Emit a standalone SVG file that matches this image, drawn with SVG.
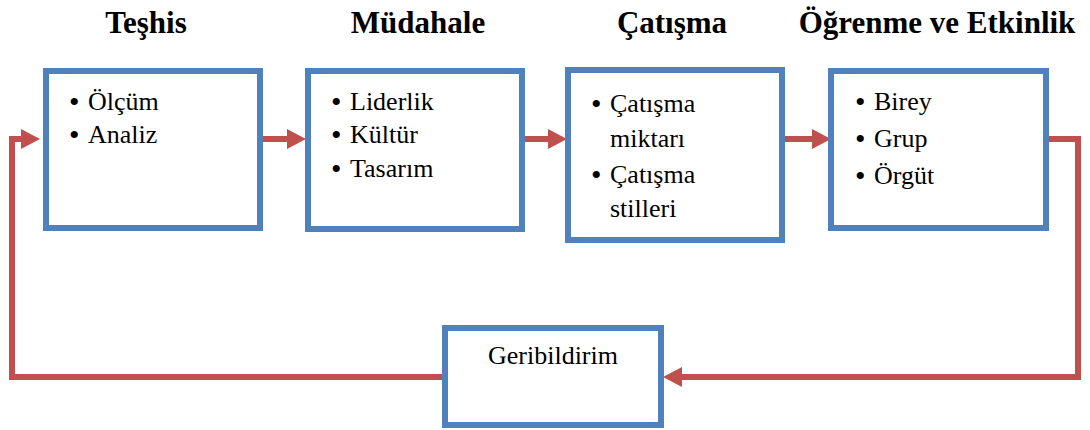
<svg xmlns="http://www.w3.org/2000/svg" width="1090" height="430" viewBox="0 0 1090 430">
<style>
.box{fill:#fff;stroke:#4F81BD;stroke-width:6}
text{font-family:'Liberation Serif','Times New Roman',Tinos,'DejaVu Serif',serif;fill:#000}
.title{font-weight:bold;font-size:31px;text-anchor:middle}
.t{font-size:26px}
.b{font-size:30px}
.conn{fill:none;stroke:#C0504D;stroke-width:6;stroke-linejoin:miter}
</style>
<defs>
<marker id="ah" markerUnits="userSpaceOnUse" markerWidth="20" markerHeight="20" refX="1" refY="10" orient="auto">
<path d="M0,0 L19,10 L0,20 z" fill="#C0504D"/>
</marker>
</defs>
<rect width="1090" height="430" fill="#fff"/>
<g id="titles">
<text class="title" x="146" y="33">Teşhis</text>
<text class="title" x="418" y="33">Müdahale</text>
<text class="title" x="672" y="33">Çatışma</text>
<text class="title" x="937" y="33">Öğrenme ve Etkinlik</text>
</g>
<g id="connectors">
<path class="conn" d="M263,139 H288" marker-end="url(#ah)"/>
<path class="conn" d="M525,139 H549" marker-end="url(#ah)"/>
<path class="conn" d="M785,139 H813" marker-end="url(#ah)"/>
<path class="conn" d="M1049,139 H1078 V377 H681" marker-end="url(#ah)"/>
<path class="conn" d="M442,377 H12 V139 H22" marker-end="url(#ah)"/>
</g>
<g id="teshis">
<rect class="box" x="46" y="71" width="214" height="157"/>
<text class="b" x="69" y="112">•</text><text class="t" x="88" y="110">Ölçüm</text>
<text class="b" x="69" y="145">•</text><text class="t" x="88" y="143">Analiz</text>
</g>
<g id="mudahale">
<rect class="box" x="308" y="71" width="214" height="158"/>
<text class="b" x="331" y="112">•</text><text class="t" x="350" y="110">Liderlik</text>
<text class="b" x="331" y="145">•</text><text class="t" x="350" y="143">Kültür</text>
<text class="b" x="331" y="179">•</text><text class="t" x="350" y="177">Tasarım</text>
</g>
<g id="catisma">
<rect class="box" x="568" y="70" width="214" height="170"/>
<text class="b" x="591" y="114">•</text><text class="t" x="610" y="112">Çatışma</text>
<text class="t" x="610" y="147">miktarı</text>
<text class="b" x="591" y="185">•</text><text class="t" x="610" y="183">Çatışma</text>
<text class="t" x="610" y="217">stilleri</text>
</g>
<g id="ogrenme">
<rect class="box" x="831" y="71" width="215" height="157"/>
<text class="b" x="855" y="112">•</text><text class="t" x="874" y="110">Birey</text>
<text class="b" x="855" y="149">•</text><text class="t" x="874" y="147">Grup</text>
<text class="b" x="855" y="186">•</text><text class="t" x="874" y="184">Örgüt</text>
</g>
<g id="geribildirim">
<rect class="box" x="445" y="328" width="216" height="97"/>
<text class="t" x="553" y="364" text-anchor="middle" font-size="25">Geribildirim</text>
</g>
</svg>
